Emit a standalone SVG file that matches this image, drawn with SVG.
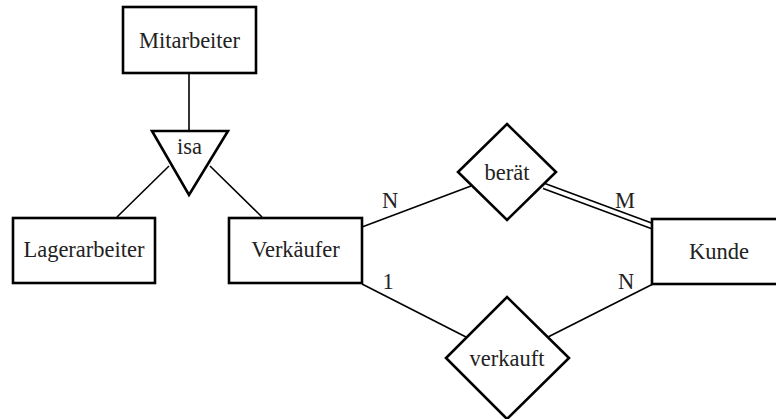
<svg xmlns="http://www.w3.org/2000/svg" width="776" height="419" viewBox="0 0 776 419">
<style>
.n{fill:#fff;stroke:#000;stroke-width:2.6}
.c line{stroke:#000;stroke-width:1.6}
text{font-family:'Liberation Serif','DejaVu Serif',serif;font-size:22.5px;fill:#222;text-anchor:middle}
</style>
<rect width="776" height="419" fill="#fff"/>
<g id="connectors" class="c">
<line x1="189" y1="73" x2="189" y2="131"/>
<line x1="169" y1="166" x2="117" y2="217"/>
<line x1="210" y1="166" x2="262" y2="217"/>
<line x1="362" y1="227" x2="471" y2="186"/>
<line x1="544" y1="186" x2="652" y2="226" style="stroke-width:7"/>
<line x1="544" y1="186" x2="652" y2="226" style="stroke:#fff;stroke-width:3.8"/>
<line x1="362" y1="284" x2="466" y2="337"/>
<line x1="548" y1="337" x2="653" y2="284"/>
</g>
<g id="labels">
<text x="390" y="208">N</text>
<text x="625" y="208">M</text>
<text x="388" y="289">1</text>
<text x="626" y="289">N</text>
</g>
<g id="mitarbeiter"><rect class="n" x="123" y="7" width="133" height="66"/><text x="189.5" y="48">Mitarbeiter</text></g>
<g id="isa"><polygon class="n" points="152,131 228,131 189,195"/><text x="189.5" y="154">isa</text></g>
<g id="lagerarbeiter"><rect class="n" x="13" y="218" width="142" height="65"/><text x="84" y="257">Lagerarbeiter</text></g>
<g id="verkaeufer"><rect class="n" x="229" y="218" width="133" height="65"/><text x="295.5" y="257">Verkäufer</text></g>
<g id="kunde"><rect class="n" x="652" y="219" width="134" height="65"/><text x="719" y="259">Kunde</text></g>
<g id="beraet"><polygon class="n" points="507,124 556,172 507,220 458,172"/><text x="507" y="180">berät</text></g>
<g id="verkauft"><polygon class="n" points="507,297 569,358 507,419 446,358"/><text x="507" y="366">verkauft</text></g>
</svg>
